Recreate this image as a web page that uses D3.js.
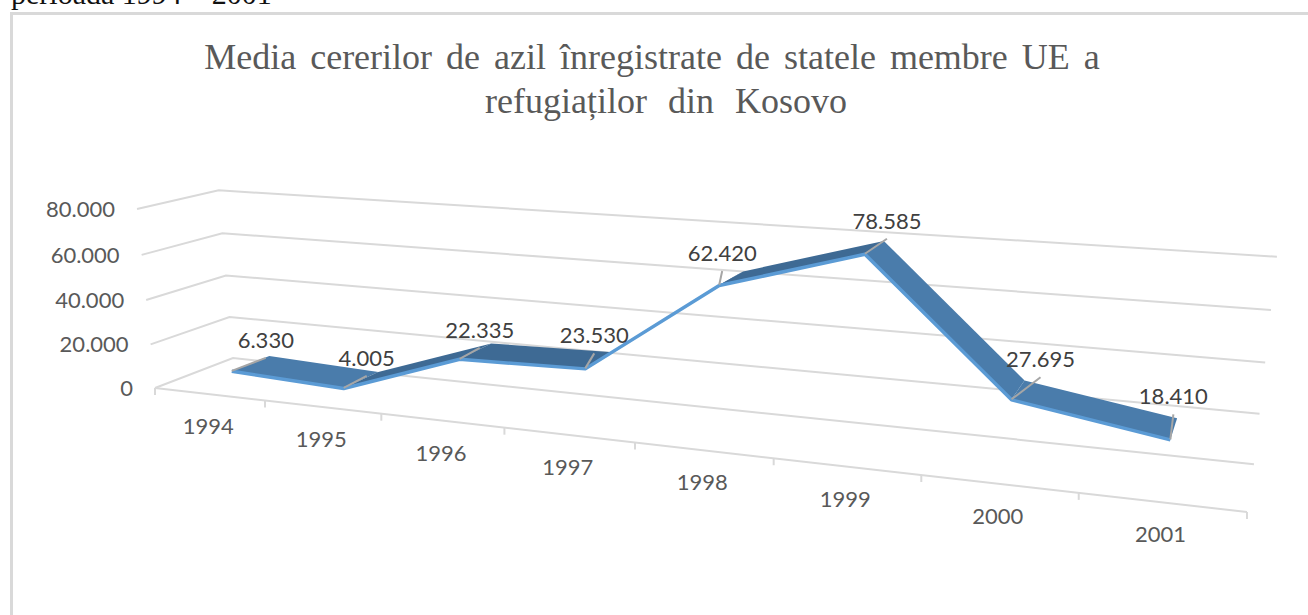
<!DOCTYPE html>
<html lang="ro">
<head>
<meta charset="UTF-8">
<title>Media cererilor de azil</title>
<style>
	* { margin: 0; padding: 0; }
	body { background: #fff; }
	svg { display: block; }
	.title { font-family: "Liberation Serif", serif; font-size: 36px; fill: #595959; text-anchor: middle; }
	.tick { font-family: Lato, sans-serif; font-size: 22px; fill: #595959; }
	.val { font-family: Lato, sans-serif; font-size: 22px; fill: #404040; text-anchor: middle; }
</style>
</head>
<body>
<script src="https://cdn.jsdelivr.net/npm/d3@7"></script>
<script>
	var years = ['1994', '1995', '1996', '1997', '1998', '1999', '2000', '2001'];
	var values = [6330, 4005, 22335, 23530, 62420, 78585, 27695, 18410];
	var valueTicks = [0, 20000, 40000, 60000, 80000];
	var titleLines = ['Media cererilor de azil înregistrate de statele membre UE a', 'refugiaților din Kosovo'];

	// layout only: where each leader line ends, relative to its point
	var leaderDx = [34, 23, 20, 9, 3, 22, 29, 3];
	var leaderDy = [-13, -12, -11, -15, -14, -15, -22, -25];
	var titleWordSpacing = [5, 12];

	var width = 1308, height = 615;
	var svg = d3.select('body').append('svg').attr('width', width).attr('height', height);

	// scales go to unit cube coordinates: u along years, v up, w into the picture
	var uEdge = d3.scaleLinear().domain([0, years.length]).range([0, 1]);
	var uBand = d3.scaleBand().domain(years).range([0, 1]);
	var vScale = d3.scaleLinear().domain([0, 80000]).range([0, 1]);
	var wFront = 0.3, wBack = 0.8;

	// perspective of the 3d box, fitted to its corners in the picture
	function project(u, v, w) {
		var d = 1 - 0.2157 * u - 0.033 * v + 0.071 * w;
		return [
			(155 + 823 * u - 22.5 * v + 94.5 * w) / d,
			(388 + 13.56 * u - 185.9 * v - 4.58 * w) / d
		];
	}
	function uOf(i) { return uBand(years[i]) + uBand.bandwidth() / 2; }
	function pt(i, w) { return project(uOf(i), vScale(values[i]), w); }

	var line = d3.line();
	var grid = '#d9d9d9';

	// page text above the chart, cut by the top edge as in the source
	svg.append('text').attr('x', 11).attr('y', 4)
		.style('font-family', '"Liberation Serif", serif').style('font-size', '30px').style('fill', '#111')
		.text('perioada 1994 – 2001');

	// chart frame: only left and top are visible
	svg.append('path').attr('d', 'M11.5,' + height + 'V13.5H' + width)
		.attr('fill', 'none').attr('stroke', grid).attr('stroke-width', 3);

	svg.selectAll('.title').data(titleLines).enter().append('text')
		.classed('title', true)
		.attr('x', function (d, i) { return i ? 666 : 652; })
		.attr('y', function (d, i) { return 69 + i * 44; })
		.style('word-spacing', function (d, i) { return titleWordSpacing[i] + 'px'; })
		.text(function (d) { return d; });

	// gridlines: front side wall, then back wall
	svg.selectAll('.grid').data(valueTicks).enter().append('path')
		.classed('grid', true)
		.attr('fill', 'none').attr('stroke', grid).attr('stroke-width', 2)
		.attr('d', function (d) {
			var v = vScale(d);
			return line([project(0, v, 0), project(0, v, 1), project(1, v, 1)]);
		});

	// floor front edge and its ticks
	svg.append('path').attr('fill', 'none').attr('stroke', grid).attr('stroke-width', 2)
		.attr('d', line([project(0, 0, 0), project(1, 0, 0)]));
	svg.selectAll('.xtick').data(d3.range(years.length + 1)).enter().append('path')
		.classed('xtick', true)
		.attr('fill', 'none').attr('stroke', grid).attr('stroke-width', 2)
		.attr('d', function (d) {
			var p = project(uEdge(d), 0, 0);
			return line([p, [p[0], p[1] + 7]]);
		});

	// value axis labels
	svg.selectAll('.ytick').data(valueTicks).enter().append('text')
		.classed('tick', true)
		.attr('text-anchor', 'end')
		.attr('x', function (d) { return project(0, vScale(d), 0)[0] - 22; })
		.attr('y', function (d) { return project(0, vScale(d), 0)[1] + 8; })
		.text(function (d) { return d3.format(',')(d).replace(',', '.'); });

	// year labels
	svg.selectAll('.xlabel').data(years).enter().append('text')
		.classed('tick', true)
		.attr('text-anchor', 'middle')
		.attr('x', function (d, i) { return project(uOf(i), 0, 0)[0] - 1; })
		.attr('y', function (d, i) { return project(uOf(i), 0, 0)[1] + 40; })
		.text(function (d) { return d; });

	// ribbon segments, darker where the line climbs
	svg.selectAll('.seg').data(d3.range(years.length - 1)).enter().append('path')
		.classed('seg', true)
		.attr('fill', function (i) { return values[i + 1] > values[i] ? '#3e6a94' : '#4a7cab'; })
		.attr('d', function (i) {
			return line([pt(i, wFront), pt(i + 1, wFront), pt(i + 1, wBack), pt(i, wBack)]) + 'Z';
		});

	// light front edge
	svg.append('path').attr('fill', 'none').attr('stroke', '#5b9bd5').attr('stroke-width', 3.5)
		.attr('stroke-linejoin', 'round')
		.attr('d', line(years.map(function (d, i) {
			var p = pt(i, wFront);
			return [p[0], p[1] + 0.5];
		})));

	// leaders and value labels
	svg.selectAll('.leader').data(d3.range(years.length)).enter().append('path')
		.classed('leader', true)
		.attr('fill', 'none').attr('stroke', '#a6a6a6').attr('stroke-width', 2)
		.attr('d', function (i) {
			var p = pt(i, wFront);
			return line([p, [p[0] + leaderDx[i], p[1] + leaderDy[i]]]);
		});
	svg.selectAll('.val').data(d3.range(years.length)).enter().append('text')
		.classed('val', true)
		.attr('x', function (i) { return pt(i, wFront)[0] + leaderDx[i]; })
		.attr('y', function (i) { return pt(i, wFront)[1] + leaderDy[i] - 10; })
		.text(function (i) { return d3.format(',')(values[i]).replace(',', '.'); });
</script>
</body>
</html>
